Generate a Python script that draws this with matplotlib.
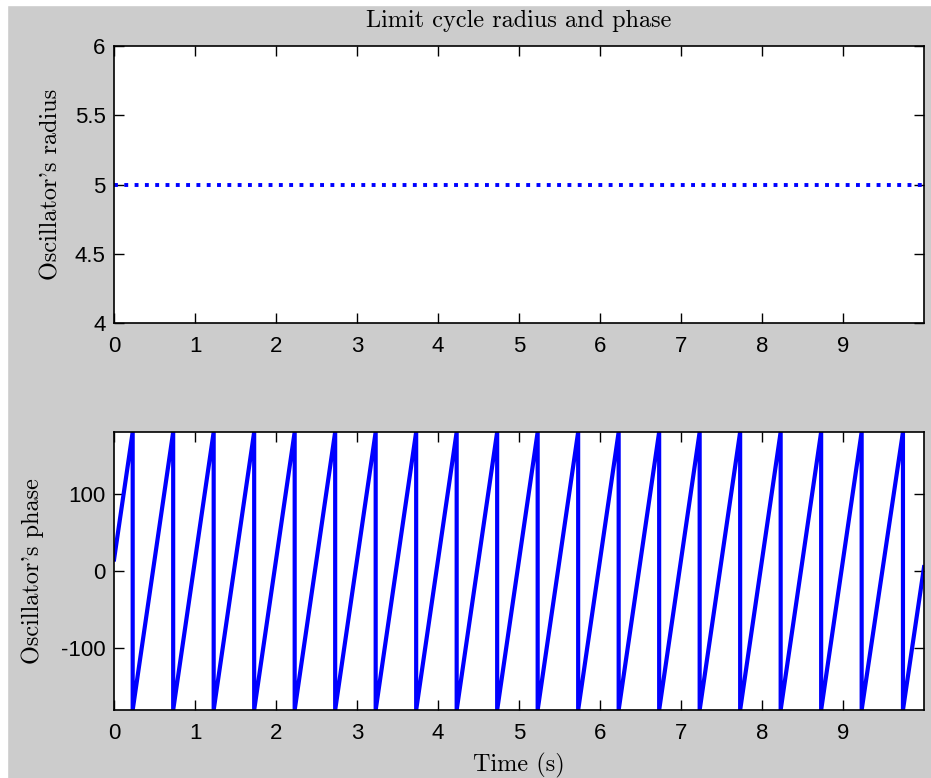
import matplotlib
matplotlib.use("Agg")
import matplotlib.pyplot as plt
from matplotlib.patches import Rectangle

# radius trace (constant limit cycle)
radius_t = [0.0, 10.0]
radius_val = [5.0, 5.0]

# phase trace: start, wrap times (+180 -> -180), end
phase_start = (0.0, 15.0)
wrap_times = [0.23, 0.73, 1.23, 1.73, 2.23, 2.73, 3.23, 3.73, 4.23, 4.73,
              5.23, 5.73, 6.23, 6.73, 7.23, 7.73, 8.23, 8.73, 9.23, 9.74]
phase_end = (10.0, 5.0)

xticks = [0, 1, 2, 3, 4, 5, 6, 7, 8, 9]
radius_ticks = [4, 4.5, 5, 5.5, 6]
radius_ticklabels = ["4", "4.5", "5", "5.5", "6"]
phase_ticks = [-100, 0, 100]

# build phase polyline from the listed points
phase_t = [phase_start[0]]
phase_val = [phase_start[1]]
for w in wrap_times:
    phase_t += [w, w]
    phase_val += [180, -180]
phase_t.append(phase_end[0])
phase_val.append(phase_end[1])

plt.rcParams["axes.unicode_minus"] = False

bg = "#cccccc"
serif = "cmr10"
tick_font = "Liberation Sans"
label_size = 17.5

fig = plt.figure(figsize=(9.31, 7.78), dpi=100, facecolor=bg)
# thin white border at top/left of the screenshot
fig.patches.append(Rectangle((0, 1 - 5 / 778), 1, 5 / 778, transform=fig.transFigure,
                             color="white", zorder=-1))
fig.patches.append(Rectangle((0, 0), 7 / 931, 1, transform=fig.transFigure,
                             color="white", zorder=-1))

ax1 = fig.add_axes([0.1225, 0.5848, 0.870, 0.3561])
ax2 = fig.add_axes([0.1225, 0.0874, 0.870, 0.3573])

ax1.plot(radius_t, radius_val, color="#0000ff", linestyle=":", linewidth=2.8)
ax1.set_xlim(0, 10)
ax1.set_ylim(4, 6)
ax1.set_yticks(radius_ticks)
ax1.set_yticklabels(radius_ticklabels)
ax1.set_ylabel("Oscillator's radius", fontfamily=serif, fontsize=label_size)
ax1.yaxis.set_label_coords(-0.064, 0.5)
ax1.set_title("Limit cycle radius and phase", fontfamily=serif, fontsize=label_size, pad=14)

ax2.plot(phase_t, phase_val, color="#0000ff", linewidth=3)
ax2.set_xlim(0, 10)
ax2.set_ylim(-180, 180)
ax2.set_yticks(phase_ticks)
ax2.set_ylabel("Oscillator's phase", fontfamily=serif, fontsize=label_size)
ax2.yaxis.set_label_coords(-0.087, 0.5)
ax2.set_xlabel("Time (s)", fontfamily=serif, fontsize=label_size, labelpad=7)

for ax in (ax1, ax2):
    ax.set_xticks(xticks)
    ax.tick_params(direction="in", top=True, right=True, length=7, width=1,
                   labelsize=16, pad=6)
    ax.tick_params(axis="x", pad=9)
    for lbl in ax.get_xticklabels() + ax.get_yticklabels():
        lbl.set_fontfamily(tick_font)
    for s in ax.spines.values():
        s.set_linewidth(1.2)

fig.savefig("out.png", dpi=100, facecolor=bg)
